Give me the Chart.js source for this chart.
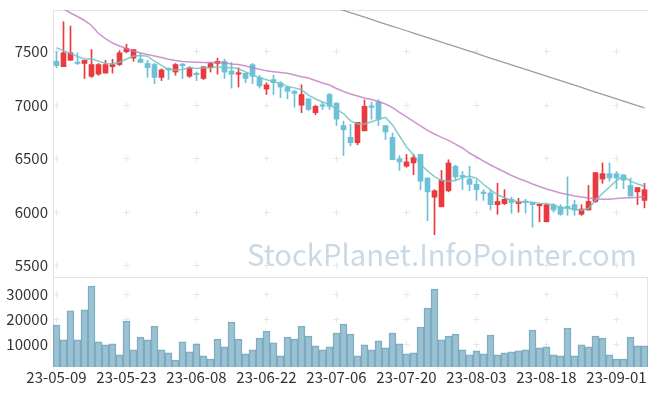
<!DOCTYPE html>
<html>
<head>
<meta charset="utf-8">
<script src="https://cdn.jsdelivr.net/npm/chart.js@4"></script>
<style>
html, body { margin: 0; padding: 0; background: #fff; }
#wrap { position: relative; width: 657px; height: 396px; }
#priceBox { position: absolute; left: 0; top: 0; width: 657px; height: 278px; }
#volBox { position: absolute; left: 0; top: 277px; width: 657px; height: 119px; }
</style>
</head>
<body>
<div id="wrap">
  <div id="priceBox"><canvas id="priceChart" width="657" height="278"></canvas></div>
  <div id="volBox"><canvas id="volChart" width="657" height="119"></canvas></div>
</div>
<script>
// trading days
const dates = [
  '23-05-09','23-05-10','23-05-11','23-05-12','23-05-15','23-05-16','23-05-17','23-05-18','23-05-19','23-05-22',
  '23-05-23','23-05-24','23-05-25','23-05-26','23-05-30','23-05-31','23-06-01','23-06-02','23-06-05','23-06-07',
  '23-06-08','23-06-09','23-06-12','23-06-13','23-06-14','23-06-15','23-06-16','23-06-19','23-06-20','23-06-21',
  '23-06-22','23-06-23','23-06-26','23-06-27','23-06-28','23-06-29','23-06-30','23-07-03','23-07-04','23-07-05',
  '23-07-06','23-07-07','23-07-10','23-07-11','23-07-12','23-07-13','23-07-14','23-07-17','23-07-18','23-07-19',
  '23-07-20','23-07-21','23-07-24','23-07-25','23-07-26','23-07-27','23-07-28','23-07-31','23-08-01','23-08-02',
  '23-08-03','23-08-04','23-08-07','23-08-08','23-08-09','23-08-10','23-08-11','23-08-14','23-08-16','23-08-17',
  '23-08-18','23-08-21','23-08-22','23-08-23','23-08-24','23-08-25','23-08-28','23-08-29','23-08-30','23-08-31',
  '23-09-01','23-09-04','23-09-05','23-09-06','23-09-07'
];

const opens = [
  7410,7360,7420,7400,7390,7270,7290,7300,7360,7380,
  7500,7440,7430,7390,7380,7260,7340,7310,7380,7270,
  7295,7250,7350,7390,7410,7320,7290,7300,7380,7260,
  7150,7240,7210,7170,7130,7000,7060,6930,7000,7100,
  7020,6810,6700,6650,6760,6990,7030,6810,6700,6500,
  6430,6460,6540,6320,6140,6050,6200,6430,6340,6310,
  6260,6185,6180,6070,6080,6120,6080,6100,6090,6060,
  5910,6070,6050,6050,6070,5980,6020,6100,6310,6360,
  6360,6350,6250,6190,6110
];
const highs = [
  7500,7780,7740,7490,7420,7520,7390,7420,7430,7510,
  7570,7520,7490,7420,7390,7340,7350,7390,7390,7360,
  7310,7360,7400,7440,7430,7400,7350,7300,7390,7280,
  7210,7280,7220,7170,7140,7190,7060,7000,7030,7110,
  7020,6850,6820,6840,7050,7030,7050,6810,6740,6530,
  6540,6540,6540,6320,6210,6390,6490,6440,6380,6430,
  6300,6210,6210,6270,6210,6140,6130,6120,6090,6070,
  6070,6080,6070,6330,6110,6070,6250,6370,6460,6460,
  6380,6350,6320,6230,6270
];
const lows = [
  7350,7360,7420,7380,7250,7260,7280,7300,7300,7370,
  7490,7410,7400,7260,7200,7230,7240,7280,7250,7260,
  7230,7240,7310,7290,7250,7160,7170,7210,7200,7160,
  7100,7100,7070,7060,6980,6930,6950,6910,6960,6960,
  6810,6530,6620,6630,6760,6870,6810,6680,6490,6390,
  6420,6350,6210,5920,5790,6050,6190,6300,6210,6200,
  6110,6110,6020,5980,6070,5990,6000,5990,5860,5910,
  5910,6000,5970,5970,5970,5970,6020,6090,6270,6290,
  6220,6220,6150,6070,6040
];
const closes = [
  7370,7490,7490,7390,7420,7380,7380,7380,7380,7490,
  7530,7520,7400,7350,7260,7330,7330,7380,7370,7350,
  7285,7360,7390,7410,7310,7290,7300,7250,7270,7180,
  7190,7210,7170,7130,7110,7100,6960,6990,6990,6990,
  6870,6770,6650,6840,6990,6980,6870,6750,6490,6470,
  6470,6510,6290,6190,6200,6300,6460,6330,6330,6260,
  6210,6175,6070,6100,6120,6090,6100,6090,6070,6070,
  6070,6020,5980,6040,6020,6030,6100,6370,6360,6320,
  6320,6300,6150,6230,6210
];

const ma5 = [
  7537,7510,7485,7455,7432,7434,7412,7390,7388,7402,
  7432,7460,7464,7458,7412,7372,7334,7330,7334,7352,
  7343,7349,7351,7359,7351,7352,7340,7312,7284,7258,
  7238,7220,7204,7176,7162,7144,7094,7058,7030,7006,
  6960,6922,6854,6824,6824,6846,6866,6886,6816,6712,
  6610,6538,6446,6386,6332,6298,6288,6296,6324,6336,
  6318,6261,6209,6163,6135,6111,6096,6100,6094,6084,
  6080,6064,6042,6036,6026,6018,6034,6112,6176,6236,
  6294,6334,6290,6264,6242
];
const ma20 = [
  7940,7900,7862,7829,7792,7745,7670,7623,7581,7553,
  7530,7507,7488,7474,7460,7446,7429,7418,7408,7404,
  7401,7399,7399,7399,7394,7385,7380,7366,7350,7336,
  7321,7313,7306,7298,7282,7266,7254,7231,7207,7189,
  7156,7128,7105,7086,7067,7053,7035,7011,6978,6932,
  6890,6848,6806,6764,6731,6699,6671,6637,6600,6553,
  6516,6478,6441,6408,6376,6343,6315,6292,6264,6240,
  6217,6198,6180,6165,6151,6142,6133,6125,6121,6121,
  6128,6133,6136,6139,6144
];
const ma60 = [
  null,null,null,null,null,null,null,null,null,null,
  null,null,null,null,null,null,null,null,null,null,
  null,null,null,null,null,null,null,null,null,null,
  null,null,null,null,null,null,null,null,7950,7929,
  7908,7886,7865,7844,7823,7802,7780,7759,7738,7717,
  7696,7674,7653,7632,7611,7590,7568,7547,7526,7505,
  7484,7462,7441,7420,7399,7378,7356,7335,7314,7293,
  7272,7250,7229,7208,7187,7166,7144,7123,7102,7081,
  7060,7038,7017,6996,6975
];

const volumes = [
  17700,11800,23300,11800,23700,33200,11000,9800,10200,5800,
  19300,7800,12900,11800,17300,7800,6600,3800,11000,7000,
  10200,5400,4200,12100,9000,18900,12100,6200,7800,12500,
  15300,10600,5400,12900,12100,17300,13300,9400,7800,9000,
  14500,18100,14100,5400,9800,7800,11400,8600,14500,10200,
  6200,6600,16900,24400,32000,11800,13300,14100,7800,5800,
  7400,6200,13700,5800,6600,7000,7400,7800,15700,8600,
  9000,5800,5400,16500,5400,9800,9000,13300,12500,5800,
  4200,4200,12900,9400,9400
];

const priceTicks = [5500, 6000, 6500, 7000, 7500];
const volTicks = [10000, 20000, 30000];
const markText = 'StockPlanet.InfoPointer.com';

const UP = '#ea3a40';
const DOWN = '#6cc1d9';
const FONT = '"Noto Sans CJK KR", "Noto Sans", sans-serif';

Chart.defaults.font.family = FONT;

const candleColors = closes.map((c, i) => c >= opens[i] ? UP : DOWN);

// light border + small crosses where the grid would be
const panelDeco = {
  id: 'panelDeco',
  beforeDatasetsDraw(chart, args, opts) {
    const { ctx, chartArea: a, scales: { x, y } } = chart;
    ctx.save();
    ctx.strokeStyle = '#e2e2e2';
    ctx.lineWidth = 1;
    ctx.beginPath();
    if (opts.box) {
      ctx.rect(Math.floor(a.left) + 0.5, Math.floor(a.top) + 0.5, Math.round(a.right - a.left) - 1, Math.round(a.bottom - a.top) - 1);
    } else {
      ctx.moveTo(Math.floor(a.left) + 0.5, a.bottom);
      ctx.lineTo(Math.floor(a.left) + 0.5, Math.floor(a.top) + 0.5);
      ctx.lineTo(a.right, Math.floor(a.top) + 0.5);
    }
    ctx.stroke();
    ctx.strokeStyle = '#e6e6e6';
    ctx.beginPath();
    y.ticks.forEach(t => {
      const py = Math.floor(y.getPixelForValue(t.value)) + 0.5;
      dates.forEach((d, i) => {
        if (i % 10) return;
        const px = Math.floor(x.getPixelForValue(i)) + 0.5;
        ctx.moveTo(px - 3, py); ctx.lineTo(px + 3, py);
        ctx.moveTo(px, py - 3); ctx.lineTo(px, py + 3);
      });
    });
    ctx.stroke();
    ctx.restore();
  }
};

const watermark = {
  id: 'watermark',
  beforeDatasetsDraw(chart) {
    const ctx = chart.ctx;
    ctx.save();
    let size = 34;
    ctx.font = size + 'px ' + FONT;
    size = size * 390 / ctx.measureText(markText).width;
    ctx.font = size + 'px ' + FONT;
    ctx.fillStyle = '#c9dae6';
    ctx.textBaseline = 'alphabetic';
    ctx.fillText(markText, 247, 266);
    ctx.restore();
  }
};

const tickFont = { family: FONT, size: 15 };

new Chart(document.getElementById('priceChart'), {
  type: 'bar',
  data: {
    labels: dates,
    datasets: [
      { type: 'line', label: '5', data: ma5, borderColor: 'rgba(112,196,190,0.85)', borderWidth: 1.5, pointRadius: 0, order: 0 },
      { type: 'line', label: '20', data: ma20, borderColor: 'rgba(192,122,190,0.8)', borderWidth: 1.5, pointRadius: 0, order: 0 },
      { type: 'line', label: '60', data: ma60, borderColor: 'rgba(140,140,140,0.85)', borderWidth: 1.3, pointRadius: 0, order: 0 },
      { label: 'body', data: opens.map((o, i) => [o, closes[i]]), backgroundColor: candleColors, barThickness: 5, minBarLength: 1.5, grouped: false, order: 1 },
      { label: 'wick', data: lows.map((l, i) => [l, highs[i]]), backgroundColor: candleColors, barThickness: 1, grouped: false, order: 2 }
    ]
  },
  options: {
    responsive: false,
    animation: false,
    devicePixelRatio: 1,
    layout: { padding: { top: 10, right: 9, bottom: 1, left: 0 } },
    plugins: { legend: { display: false }, tooltip: { enabled: false }, panelDeco: { box: false } },
    scales: {
      x: { display: false, offset: true },
      y: {
        min: 5394, max: 7890,
        grid: { display: false, drawTicks: false },
        border: { display: false },
        afterBuildTicks: s => { s.ticks = priceTicks.map(v => ({ value: v })); },
        afterFit: s => { s.width = 53; s.paddingTop = 0; s.paddingBottom = 0; },
        ticks: { padding: 5, color: '#333', font: tickFont, callback: v => String(v) }
      }
    }
  },
  plugins: [watermark, panelDeco]
});

new Chart(document.getElementById('volChart'), {
  type: 'bar',
  data: {
    labels: dates,
    datasets: [{
      data: volumes,
      backgroundColor: 'rgba(140,185,205,0.88)',
      borderColor: 'rgba(80,140,168,0.75)',
      borderWidth: { top: 1, left: 1, right: 1, bottom: 0 },
      barPercentage: 1,
      categoryPercentage: 1
    }]
  },
  options: {
    responsive: false,
    animation: false,
    devicePixelRatio: 1,
    layout: { padding: { top: 0, right: 9, bottom: 0, left: 0 } },
    plugins: { legend: { display: false }, tooltip: { enabled: false }, panelDeco: { box: true } },
    scales: {
      x: {
        offset: true,
        grid: { display: false, drawTicks: false },
        border: { display: false },
        afterFit: s => { s.height = 29; s.paddingLeft = 0; s.paddingRight = 0; },
        ticks: {
          autoSkip: false, maxRotation: 0, padding: 1, color: '#333', font: tickFont,
          callback: (v, i) => i % 10 === 0 ? dates[i] : ''
        }
      },
      y: {
        min: 1000, max: 36800,
        grid: { display: false, drawTicks: false },
        border: { display: false },
        afterBuildTicks: s => { s.ticks = volTicks.map(v => ({ value: v })); },
        afterFit: s => { s.width = 53; s.paddingTop = 0; s.paddingBottom = 0; },
        ticks: { padding: 5, color: '#333', font: tickFont, callback: v => String(v) }
      }
    }
  },
  plugins: [panelDeco]
});
</script>
</body>
</html>
